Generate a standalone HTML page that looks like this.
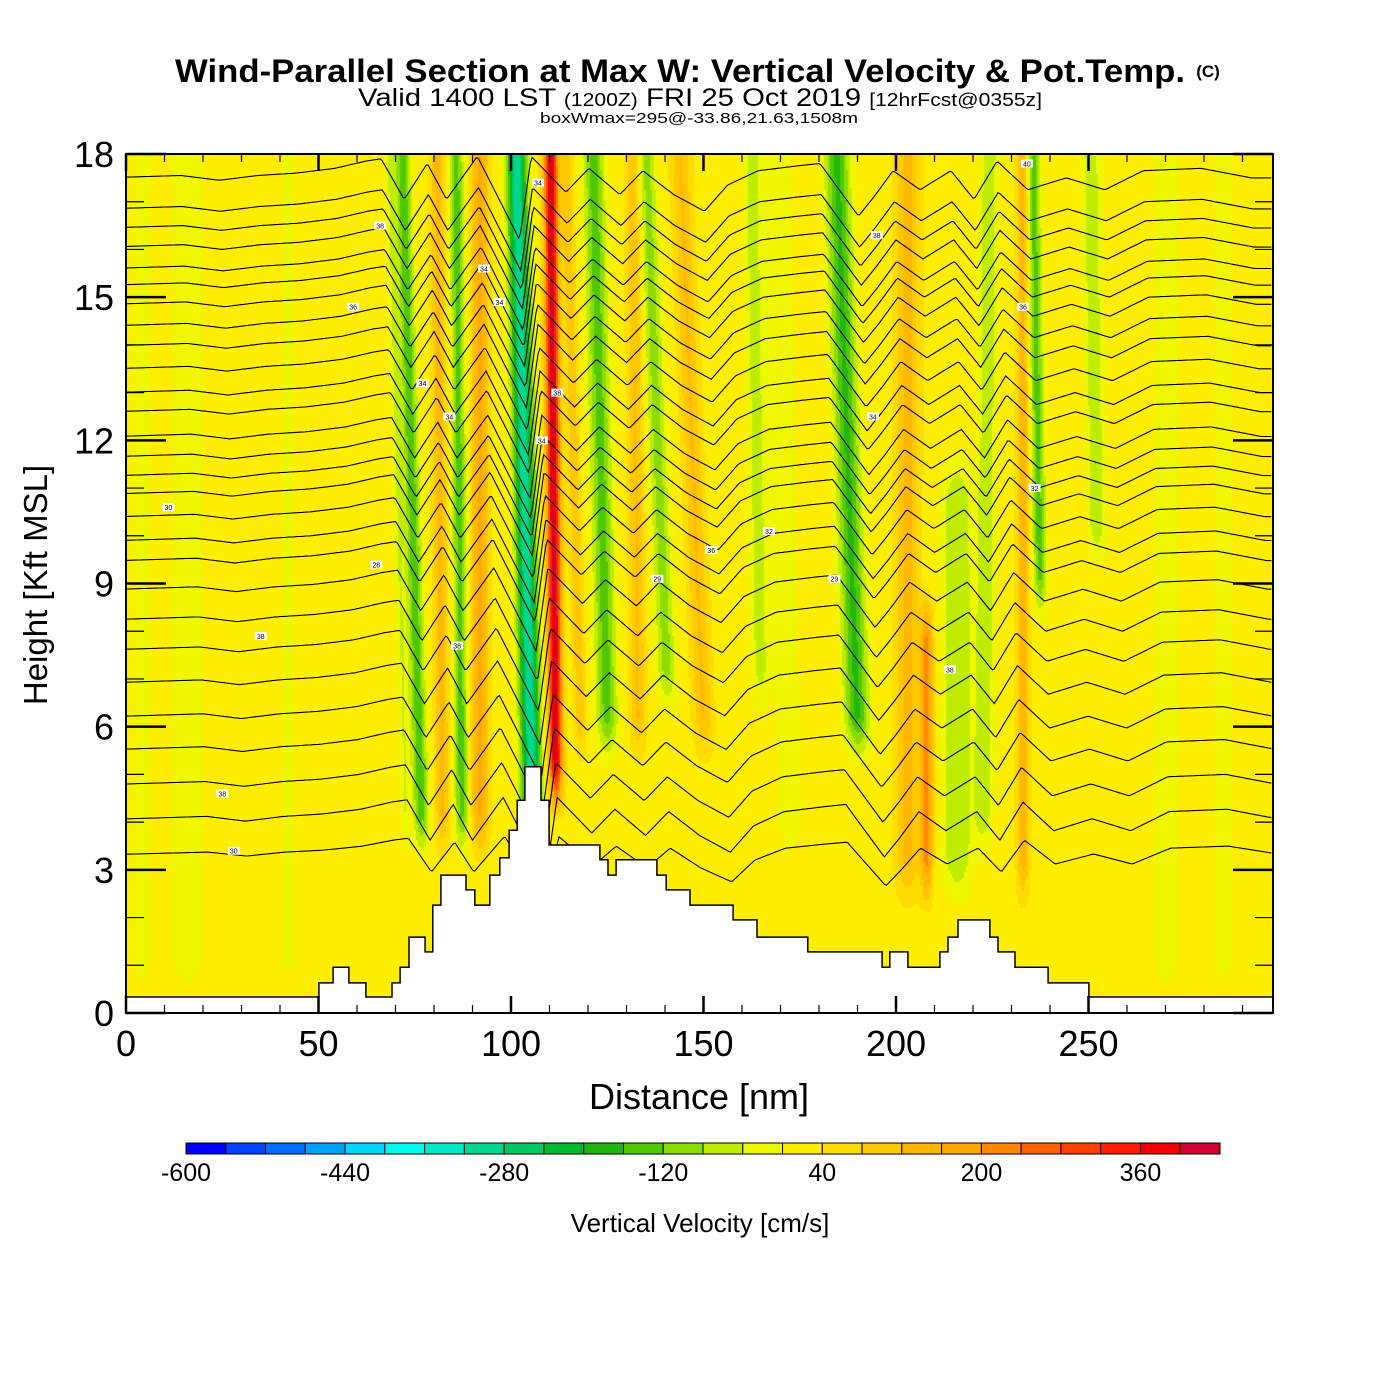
<!DOCTYPE html>
<html><head><meta charset="utf-8"><style>
html,body{margin:0;padding:0;background:#fff;}
#wrap{position:relative;width:1400px;height:1400px;}
canvas,svg{position:absolute;left:0;top:0;}
text{font-family:"Liberation Sans",sans-serif;}
</style></head><body>
<div id="wrap">
<canvas id="field" width="1400" height="1400"></canvas>
<svg id="svg" width="1400" height="1400">
<g id="contours"></g>
<path id="terrain" fill="#fff" stroke="#000" stroke-width="1.5"></path>
<g id="labels"></g>
<rect x="126" y="154" width="1147" height="859" fill="none" stroke="#000" stroke-width="2"></rect>
<g id="ticks"></g>
<text x="680" y="82" text-anchor="middle" font-size="32" font-weight="bold" textLength="1010" lengthAdjust="spacingAndGlyphs">Wind-Parallel Section at Max W: Vertical Velocity &amp; Pot.Temp.</text>
<text x="1208" y="77" text-anchor="middle" font-size="17" font-weight="bold">(C)</text>
<text x="700" y="106" text-anchor="middle" font-size="25" textLength="684" lengthAdjust="spacingAndGlyphs">Valid 1400 LST <tspan font-size="18">(1200Z)</tspan> FRI 25 Oct 2019 <tspan font-size="18">[12hrFcst@0355z]</tspan></text>
<text x="699" y="123" text-anchor="middle" font-size="15" textLength="318" lengthAdjust="spacingAndGlyphs">boxWmax=295@-33.86,21.63,1508m</text>
<g id="ylabels"></g>
<g id="xlabels"></g>
<text transform="translate(47,585) rotate(-90)" text-anchor="middle" font-size="33">Height [Kft MSL]</text>
<text x="699" y="1109" text-anchor="middle" font-size="36">Distance [nm]</text>
<g id="colorbar"></g>
<text x="700" y="1232" text-anchor="middle" font-size="26">Vertical Velocity [cm/s]</text>
</svg>
</div>
<script>
// ---- data ----
var xTicks = [0,50,100,150,200,250];
var yTicks = [0,3,6,9,12,15,18];
var cbLevels = [-600,-440,-280,-120,40,200,360];
var cbColors = ["#0000f8","#0040ff","#0070ff","#00a0ff","#00d4ff","#00fcee","#00e8c4","#00d890","#00c860","#00b830","#20b810","#50c800","#8cdc00","#c0ec00","#f0f800","#ffee00","#ffdc00","#ffc800","#ffb800","#ffa800","#ff8800","#ff6000","#ff4000","#ff2000","#f00000","#d00030"];
// terrain steps: start distance (nm) and height (kft)
var terrainDist = [0,50.1,53.8,57.9,62.3,69.1,71.2,73.5,77.7,79.7,81.8,88.3,90.6,94.5,97.1,99.5,101.6,103.6,107.8,109.9,123.1,125.2,127.3,137.9,140.3,146.5,157.7,163.9,177.1,196.4,198.4,203.1,211.4,213.5,216.1,224.4,226.5,230.9,239.5,250.1];
var terrainH = [0.335,0.63,0.96,0.63,0.335,0.63,0.96,1.59,1.28,2.26,2.89,2.58,2.26,2.89,3.25,3.83,4.46,5.16,4.46,3.52,3.21,2.89,3.21,2.89,2.58,2.26,1.95,1.59,1.28,0.96,1.28,0.96,1.28,1.59,1.95,1.59,1.28,0.96,0.63,0.335];
// vertical velocity streaks: center distance at 6 kft, tilt (nm/kft), width (nm), amplitude (cm/s), bottom/top height (kft)
var streakX = [4,16,42,72,76,82,87,92,105,111.5,118,125,133,141,150,165,172,190,203,208,216,223,233,238,253,270,285];
var streakTilt = [0,0,0,-0.3,-0.35,-0.1,-0.1,0,-0.3,-0.1,-0.3,-0.3,-0.1,-0.5,-0.5,-0.2,-0.2,-0.45,0,0,0,0.1,0,-0.2,-0.2,0,0];
var streakWidth = [3,5,3,1.5,2,1.8,1.8,2.2,2.6,1.8,1.5,2.8,2,2.5,2.5,2.5,3,3.2,3,1.6,4,2.5,1.6,1.8,2.5,4,3];
var streakAmp = [-40,-40,-30,-60,-170,110,-160,150,-340,390,90,-160,100,-120,100,-80,-60,-190,110,190,-100,-90,120,-160,-90,-40,-40];
var streakBot = [0,0,0,3,3,3,3,3,3,4,5,5,5,6,5,6,3,5,2,2,2,3,2,8,9,0,0];
var streakTop = [18,18,18,18,18,18,18,18,18,18,18,18,18,18,18,18,18,18,18,9,12,18,18,18,18,18,18];
// potential-temperature contour base heights (kft at west edge)
var contourBase = [17.5,16.85,16.45,16.05,15.6,15.25,14.85,14.4,13.98,13.5,13.0,12.6,12.08,11.66,11.26,10.88,10.4,9.9,9.48,8.88,8.25,7.62,6.93,6.22,5.53,4.8,4.07,3.33];
// displacement profile (kft) vs distance (nm) at 6 kft
var dispX = [0,20,30,40,50,60,68,72,78,84,89,97,108,111,120,126,134,140,148,156,162,170,180,186,196,200,205,212,220,226,232,240,250,260,270,285,298];
var dispH = [0,0.05,-0.05,0.05,0.1,0.2,0.35,0.4,-0.45,0.3,-0.45,0.45,-1.3,0.45,-0.3,0.2,-0.35,0.15,-0.35,-0.7,-0.15,0.15,0.25,0.3,-0.8,-0.4,0.15,-0.25,0.15,-0.45,0.35,-0.25,0,-0.25,0.15,0.2,0];
var labelDist = [11,35,25,28,66,59,65,86,84,77,93,97,107,108,112,138,152,167,184,194,195,214,234,233,236];
var labelH = [10.6,7.9,4.6,3.4,16.5,14.8,9.4,7.7,12.5,13.2,15.6,14.9,17.4,12.0,13.0,9.1,9.7,10.1,9.1,12.5,16.3,7.2,17.8,14.8,11.0];
var labelText = ["30","38","38","30","38","36","28","38","34","34","34","34","34","34","38","29","36","32","29","34","38","38","40","36","32"];

// ---- scales ----
var X0=126, X1=1273, NMMAX=(1273-126)/3.85;
function sx(d){return X0+d*3.85;}
function sy(h){return 1013-h*(859/18);}
var NS="http://www.w3.org/2000/svg";
function mk(tag,parent){var e=document.createElementNS(NS,tag);parent.appendChild(e);return e;}
function interp(xs,ys,x){if(x<=xs[0])return ys[0];for(var i=1;i<xs.length;i++){if(x<=xs[i]){var t=(x-xs[i-1])/(xs[i]-xs[i-1]);return ys[i-1]+t*(ys[i]-ys[i-1]);}}return ys[ys.length-1];}
function binColor(w){var i=Math.floor((w+600)/40);if(i<0)i=0;if(i>25)i=25;return cbColors[i];}
function env(h,b,t){var a=Math.min(1,Math.max(0,(h-b)/1.2));var c=Math.min(1,Math.max(0,(t-h)/1.2+0.001));if(t>=18)c=1;return a*c;}

// ---- field ----
var ctx=document.getElementById('field').getContext('2d');
var step=2;
for(var px=X0;px<X1;px+=step){
  var d=(px+1-X0)/3.85;
  for(var py=154;py<1013;py+=step){
    var h=(1013-py-1)/(859/18);
    var w=22;
    for(var k=0;k<streakX.length;k++){
      var c=streakX[k]+streakTilt[k]*(h-6);
      var z=(d-c)/streakWidth[k];
      if(z>-3&&z<3) w+=streakAmp[k]*Math.exp(-z*z)*env(h,streakBot[k],streakTop[k]);
    }
    ctx.fillStyle=binColor(w);
    ctx.fillRect(px,py,step,step);
  }
}

// ---- contours ----
var cg=document.getElementById('contours');
for(var i=0;i<contourBase.length;i++){
  var b=contourBase[i];
  var amp=b>4?1:b/4;
  var pts=[];
  for(var d2=0;d2<=NMMAX+0.01;d2+=0.5){
    var hh=b+amp*interp(dispX,dispH,d2+0.5*(b-6));
    pts.push(sx(Math.min(d2,NMMAX)).toFixed(1)+","+sy(hh).toFixed(1));
  }
  var pl=mk('polyline',cg);
  pl.setAttribute('points',pts.join(' '));
  pl.setAttribute('fill','none');pl.setAttribute('stroke','#000');pl.setAttribute('stroke-width','1.1');
  
  
}

// ---- terrain ----
var tp="M"+sx(0)+","+sy(0);
for(var j=0;j<terrainDist.length;j++){
  var xe=j+1<terrainDist.length?sx(terrainDist[j+1]):X1;
  tp+=" L"+sx(terrainDist[j]).toFixed(1)+","+sy(terrainH[j]).toFixed(1)+" L"+xe.toFixed(1)+","+sy(terrainH[j]).toFixed(1);
}
tp+=" L"+X1+","+sy(0)+" Z";
document.getElementById('terrain').setAttribute('d',tp);

// ---- contour labels ----
var lg=document.getElementById('labels');
for(var m=0;m<labelDist.length;m++){
  var lx=sx(labelDist[m]), ly=sy(labelH[m]);
  var r=mk('rect',lg);
  r.setAttribute('x',lx-6);r.setAttribute('y',ly-4);r.setAttribute('width',12);r.setAttribute('height',8);r.setAttribute('fill','#fff');
  
  
  var t=mk('text',lg);
  t.setAttribute('x',lx);t.setAttribute('y',ly+3);t.setAttribute('font-size','7');t.setAttribute('text-anchor','middle');
  t.textContent=labelText[m];
  
  
}

// ---- ticks & labels ----
var tg=document.getElementById('ticks');
function line(x1,y1,x2,y2,wd){var l=mk('line',tg);l.setAttribute('x1',x1);l.setAttribute('y1',y1);l.setAttribute('x2',x2);l.setAttribute('y2',y2);l.setAttribute('stroke','#000');l.setAttribute('stroke-width',wd);
  
  }
for(var hk=0;hk<=18;hk++){
  var major=hk%3===0, len=major?40:18, yy=sy(hk);
  line(X0,yy,X0+len,yy,major?2.5:1.2);
  line(X1-len,yy,X1,yy,major?2.5:1.2);
}
for(var dk=0;dk<=290;dk+=10){
  var mj=dk%50===0, ln=mj?17:8, xx=sx(dk);
  line(xx,1013,xx,1013-ln,mj?2.5:1.2);
  line(xx,154,xx,154+ln,mj?2.5:1.2);
}
var yl=document.getElementById('ylabels');
yTicks.forEach(function(v){var t=mk('text',yl);t.setAttribute('x',114);t.setAttribute('y',sy(v)+13);t.setAttribute('text-anchor','end');t.setAttribute('font-size','36');t.textContent=v;
  
  });
var xl=document.getElementById('xlabels');
xTicks.forEach(function(v){var t=mk('text',xl);t.setAttribute('x',sx(v));t.setAttribute('y',1056);t.setAttribute('text-anchor','middle');t.setAttribute('font-size','36');t.textContent=v;
  
  });

// ---- colorbar ----
var cb=document.getElementById('colorbar');
var cbx0=186, cbw=(1220-186)/cbColors.length;
cbColors.forEach(function(c,i){var r=mk('rect',cb);r.setAttribute('x',cbx0+i*cbw);r.setAttribute('y',1143);r.setAttribute('width',cbw);r.setAttribute('height',11);r.setAttribute('fill',c);r.setAttribute('stroke','#000');r.setAttribute('stroke-width','1');
  
  });
cbLevels.forEach(function(v){var t=mk('text',cb);t.setAttribute('x',cbx0+(v+600)/40*cbw);t.setAttribute('y',1181);t.setAttribute('text-anchor','middle');t.setAttribute('font-size','25');t.textContent=v;
  
  });
</script>
</body></html>
